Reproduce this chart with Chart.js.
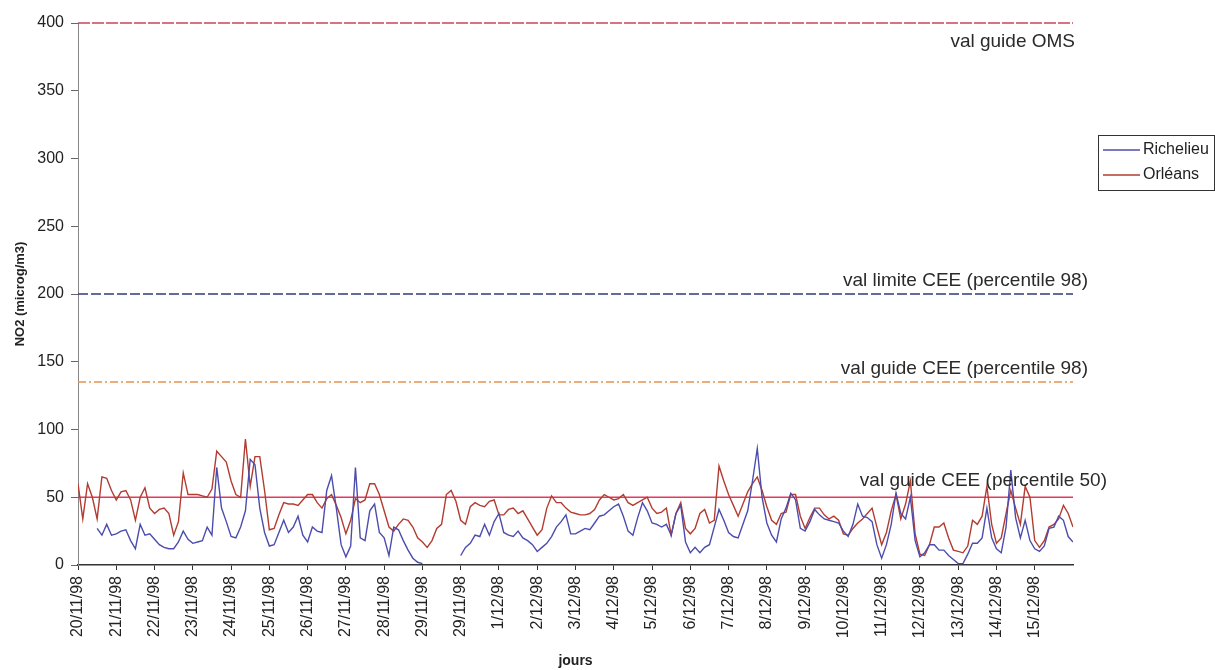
<!DOCTYPE html>
<html>
<head>
<meta charset="utf-8">
<script src="https://cdn.jsdelivr.net/npm/chart.js@4.4.1/dist/chart.umd.min.js"></script>
<style>
  html, body { margin: 0; padding: 0; background: #fff; }
  #wrap { width: 1215px; height: 670px; }
</style>
</head>
<body>
<div id="wrap"><canvas id="chart" width="1215" height="670"></canvas></div>
<script>
// tick labels, one per day (the second "29/11/98" is as printed on the original)
const dayLabels = ["20/11/98","21/11/98","22/11/98","23/11/98","24/11/98","25/11/98","26/11/98",
  "27/11/98","28/11/98","29/11/98","29/11/98","1/12/98","2/12/98","3/12/98","4/12/98","5/12/98",
  "6/12/98","7/12/98","8/12/98","9/12/98","10/12/98","11/12/98","12/12/98","13/12/98","14/12/98","15/12/98"];
const stepsPerDay = 8; // one value every 3 hours

const richelieu = [
  null, null, null, null, 27, 22, 30, 22,
  23, 25, 26, 18, 12, 30, 22, 23,
  19, 15, 13, 12, 12, 17, 25, 19,
  16, 17, 18, 28, 22, 72, 42, 32,
  21, 20, 28, 40, 78, 74, 42, 24,
  14, 15, 24, 33, 24, 28, 36, 22,
  17, 28, 25, 24, 55, 66, 42, 15,
  6, 14, 72, 20, 18, 40, 45, 24,
  20, 7, 28, 26, 18, 11, 5, 2,
  1, null, null, null, null, null, null, null,
  7, 13, 16, 22, 21, 30, 22, 32,
  38, 24, 22, 21, 25, 20, 18, 15,
  10, 13, 16, 21, 28, 32, 37, 23,
  23, 25, 27, 26, 31, 36, 37, 40,
  43, 45, 36, 25, 22, 35, 46, 40,
  31, 30, 28, 30, 22, 38, 44, 17,
  9, 13, 9, 13, 15, 28, 41, 33,
  24, 21, 20, 30, 40, 62, 86, 50,
  31, 22, 17, 34, 42, 53, 48, 27,
  25, 32, 41, 37, 34, 33, 32, 31,
  25, 21, 30, 45, 36, 35, 32, 15,
  5, 15, 30, 53, 38, 34, 50, 18,
  6, 9, 15, 15, 11, 11, 7, 4,
  1, 1, 8, 16, 16, 20, 42, 20,
  12, 9, 28, 70, 35, 20, 33, 18,
  12, 10, 14, 27, 28, 36, 33, 21, 17
];

const orleans = [
  60, 34, 60, 50, 34, 65, 64, 55,
  48, 54, 55, 48, 33, 50, 57, 42,
  38, 41, 42, 38, 22, 32, 68, 52,
  52, 52, 51, 50, 56, 84, 80, 76,
  62, 52, 50, 93, 58, 80, 80, 55,
  26, 27, 37, 46, 45, 45, 44, 48,
  52, 52, 46, 42, 49, 52, 44, 35,
  23, 33, 49, 46, 48, 60, 60, 52,
  40, 28, 25, 30, 34, 33, 28, 20,
  17, 13, 18, 27, 30, 52, 55, 47,
  33, 30, 43, 46, 44, 43, 47, 48,
  37, 37, 41, 42, 38, 40, 34, 28,
  22, 26, 42, 51, 46, 46, 42, 39,
  38, 37, 37, 38, 41, 48, 52, 50,
  48, 49, 52, 46, 44, 46, 48, 50,
  42, 38, 39, 42, 22, 38, 46, 27,
  23, 27, 38, 41, 31, 33, 73, 62,
  52, 44, 36, 45, 54, 60, 65, 55,
  43, 33, 30, 38, 39, 52, 52, 36,
  27, 35, 42, 42, 37, 34, 36, 33,
  23, 22, 27, 31, 34, 38, 42, 28,
  15, 24, 40, 52, 34, 45, 62, 23,
  8, 7, 15, 28, 28, 31, 20, 11,
  10, 9, 14, 33, 30, 36, 58, 30,
  16, 20, 38, 55, 42, 30, 58, 50,
  18, 13, 18, 28, 30, 34, 44, 38, 28
];

// guide / limit values
const refValues = [400, 200, 135, 50];
const refNames = ["val guide OMS", "val limite CEE (percentile 98)", "val guide CEE (percentile 98)", "val guide CEE (percentile 50)"];

const yMax = 400, yStep = 50;

Chart.defaults.font.family = "'Liberation Sans', Arial, sans-serif";
Chart.defaults.color = "#222";

const toPoints = arr => arr.map((v, i) => ({ x: i / stepsPerDay, y: v }));

const refStyles = [
  { color: "#cc4458", dash: [12, 2], width: 1.5 },
  { color: "#2c3c78", dash: [10, 3], width: 1.5 },
  { color: "#e8924e", dash: [8, 3, 2, 3], width: 1.5 },
  { color: "#e8385c", dash: [], width: 1.5 }
];

const refSets = refValues.map((v, k) => ({
  label: refNames[k],
  data: [{ x: 0, y: v }, { x: dayLabels.length, y: v }],
  borderColor: refStyles[k].color,
  borderDash: refStyles[k].dash,
  borderWidth: refStyles[k].width,
  pointRadius: 0,
  clip: false
}));

const series = [
  { label: "Richelieu", data: toPoints(richelieu), borderColor: "#4c4cae" },
  { label: "Orléans", data: toPoints(orleans), borderColor: "#b23c30" }
];

// right-hand text next to each reference line
const refLabels = {
  id: "refLabels",
  afterDatasetsDraw(chart) {
    const { ctx, chartArea, scales } = chart;
    const shift = [
      { dx: 2, dy: 9, base: "top" },
      { dx: 15, dy: -8, base: "alphabetic" },
      { dx: 15, dy: -8, base: "alphabetic" },
      { dx: 34, dy: -11, base: "alphabetic" }
    ];
    ctx.save();
    ctx.font = "19px 'Liberation Sans', Arial, sans-serif";
    ctx.fillStyle = "#2a2a2a";
    ctx.textAlign = "right";
    refValues.forEach((v, k) => {
      ctx.textBaseline = shift[k].base;
      ctx.fillText(refNames[k], chartArea.right + shift[k].dx, scales.y.getPixelForValue(v) + shift[k].dy);
    });
    ctx.restore();
  }
};

// boxed legend on the right
const boxLegend = {
  id: "boxLegend",
  afterDraw(chart) {
    const { ctx, chartArea } = chart;
    const x0 = chartArea.right + 25, y0 = 135;
    ctx.save();
    ctx.strokeStyle = "#333";
    ctx.lineWidth = 1;
    ctx.strokeRect(x0 + 0.5, y0 + 0.5, 116, 55);
    ctx.font = "16px 'Liberation Sans', Arial, sans-serif";
    ctx.textBaseline = "middle";
    ctx.fillStyle = "#222";
    series.forEach((s, k) => {
      const y = y0 + 15 + k * 25;
      ctx.strokeStyle = s.borderColor;
      ctx.lineWidth = 1.5;
      ctx.beginPath();
      ctx.moveTo(x0 + 5, y);
      ctx.lineTo(x0 + 42, y);
      ctx.stroke();
      ctx.fillText(s.label, x0 + 45, y);
    });
    ctx.restore();
  }
};

new Chart(document.getElementById("chart"), {
  type: "line",
  data: {
    datasets: series.map(s => ({
      ...s,
      borderWidth: 1.4,
      pointRadius: 0,
      tension: 0,
      spanGaps: false
    })).concat(refSets)
  },
  options: {
    responsive: false,
    animation: false,
    events: [],
    layout: { padding: { left: 0, right: 142, top: 23, bottom: 0 } },
    plugins: { legend: { display: false }, tooltip: { enabled: false } },
    scales: {
      x: {
        type: "linear",
        min: 0,
        max: dayLabels.length,
        afterFit: s => { s.height = 105; },
        afterBuildTicks: s => {
          s.ticks = dayLabels.map((l, i) => ({ value: i }));
        },
        ticks: {
          autoSkip: false,
          minRotation: 90,
          maxRotation: 90,
          padding: 6,
          font: { size: 16 },
          callback: v => dayLabels[v]
        },
        grid: { drawOnChartArea: false, tickLength: 5, color: "#333", lineWidth: 1 },
        border: { color: "#333", width: 1.5 },
        title: { display: true, text: "jours", font: { size: 14, weight: "bold" }, padding: { top: 0, bottom: 0 } }
      },
      y: {
        min: 0,
        max: yMax,
        afterFit: s => { s.width = 78; },
        ticks: { stepSize: yStep, padding: 7, font: { size: 16 } },
        grid: { drawOnChartArea: false, tickLength: 7, color: "#666", lineWidth: 1 },
        border: { color: "#888", width: 1 },
        title: { display: true, text: "NO2 (microg/m3)", font: { size: 13, weight: "bold" }, padding: { top: 13, bottom: 0 } }
      }
    }
  },
  plugins: [refLabels, boxLegend]
});
</script>
</body>
</html>
